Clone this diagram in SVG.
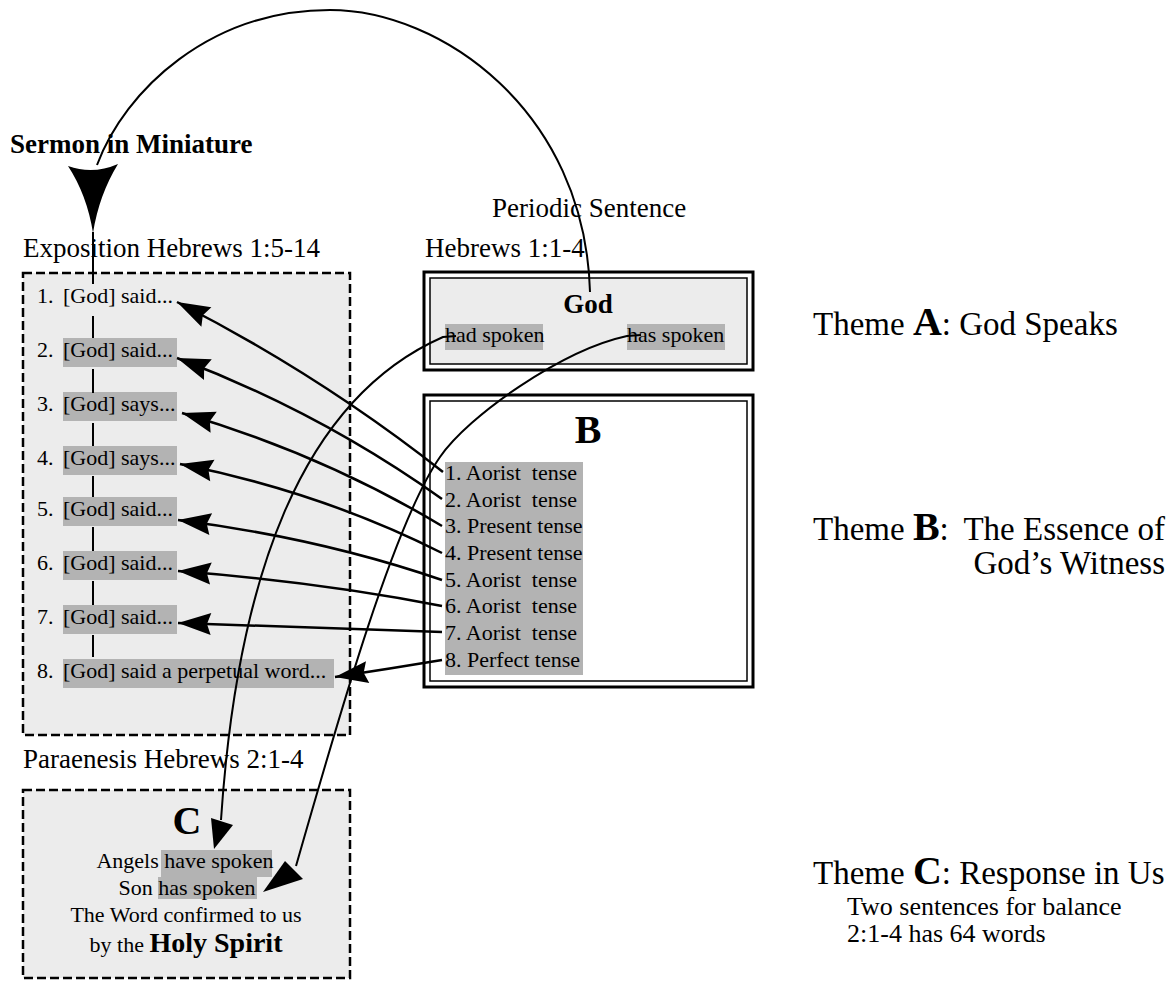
<svg xmlns="http://www.w3.org/2000/svg" width="1176" height="981" viewBox="0 0 1176 981">
<style>
text{font-family:"Liberation Serif","Times New Roman",serif;fill:#000}
.t27{font-size:27px}
.t26{font-size:26px}
.t22{font-size:22px}
.b{font-weight:bold}
.pre{white-space:pre}
.dash{fill:#ececec;stroke:#000;stroke-width:2.5;stroke-dasharray:9 4}
.hl{fill:#b3b3b3}
.outer{fill:none;stroke:#000;stroke-width:3}
.inner{stroke:#000;stroke-width:1.5}
.conn{fill:none;stroke:#000;stroke-width:2.5}
.thin{fill:none;stroke:#000;stroke-width:2}
.th{font-size:33px}
.big{font-size:40px;font-weight:bold}
</style>
<defs>
<marker id="ah" viewBox="-34 -12 36 24" refX="0" refY="0" markerWidth="36" markerHeight="24" markerUnits="userSpaceOnUse" orient="auto">
<path d="M0,0 L-33,-11 L-29,0 L-33,11 Z" fill="#000"/>
</marker>
</defs>
<rect width="1176" height="981" fill="#fff"/>

<g id="title">
<text class="t27 b" x="10" y="153">Sermon in Miniature</text>
</g>

<g id="periodic-label">
<text class="t27" x="492" y="217">Periodic Sentence</text>
</g>

<g id="exposition">
<text class="t27" x="23" y="257">Exposition Hebrews 1:5-14</text>
<rect class="dash" x="23" y="273" width="327" height="462"/>
<rect class="hl" x="63" y="338" width="114" height="29"/>
<rect class="hl" x="63" y="392" width="114" height="29"/>
<rect class="hl" x="63" y="446" width="114" height="29"/>
<rect class="hl" x="63" y="497" width="114" height="29"/>
<rect class="hl" x="63" y="551" width="114" height="29"/>
<rect class="hl" x="63" y="605" width="114" height="29"/>
<rect class="hl" x="63" y="659" width="271" height="29"/>
<text class="t22" x="37" y="303">1.</text><text class="t22" x="63" y="303">[God] said...</text>
<text class="t22" x="37" y="357">2.</text><text class="t22" x="63" y="357">[God] said...</text>
<text class="t22" x="37" y="411">3.</text><text class="t22" x="63" y="411">[God] says...</text>
<text class="t22" x="37" y="465">4.</text><text class="t22" x="63" y="465">[God] says...</text>
<text class="t22" x="37" y="516">5.</text><text class="t22" x="63" y="516">[God] said...</text>
<text class="t22" x="37" y="570">6.</text><text class="t22" x="63" y="570">[God] said...</text>
<text class="t22" x="37" y="624">7.</text><text class="t22" x="63" y="624">[God] said...</text>
<text class="t22" x="37" y="678">8.</text><text class="t22" x="63" y="678">[God] said a perpetual word...</text>
</g>

<g id="box-a">
<text class="t27" x="425" y="257">Hebrews 1:1-4</text>
<rect class="outer" x="424" y="272" width="329" height="98"/>
<rect class="inner" x="430" y="278" width="317" height="86" fill="#ececec"/>
<text class="b" x="588" y="313" font-size="27" text-anchor="middle">God</text>
<rect class="hl" x="445" y="324" width="98" height="26"/>
<rect class="hl" x="627" y="324" width="98" height="26"/>
<text class="t22" x="445" y="342">had spoken</text>
<text class="t22" x="627" y="342">has spoken</text>
</g>

<g id="box-b">
<rect class="outer" x="424" y="395" width="329" height="292"/>
<rect class="inner" x="430" y="401" width="317" height="280" fill="#fff"/>
<text class="b" x="588" y="443" font-size="40" text-anchor="middle">B</text>
<rect class="hl" x="445" y="462" width="138" height="213"/>
<text class="t22 pre" x="445" y="480">1. Aorist  tense</text>
<text class="t22 pre" x="445" y="507">2. Aorist  tense</text>
<text class="t22 pre" x="445" y="533">3. Present tense</text>
<text class="t22 pre" x="445" y="560">4. Present tense</text>
<text class="t22 pre" x="445" y="587">5. Aorist  tense</text>
<text class="t22 pre" x="445" y="613">6. Aorist  tense</text>
<text class="t22 pre" x="445" y="640">7. Aorist  tense</text>
<text class="t22 pre" x="445" y="667">8. Perfect tense</text>
</g>

<g id="paraenesis">
<text class="t27" x="23" y="768">Paraenesis Hebrews 2:1-4</text>
<rect class="dash" x="23" y="790" width="327" height="188"/>
<text class="b" x="187" y="834" font-size="40" text-anchor="middle">C</text>
<rect class="hl" x="161" y="850" width="111" height="27"/>
<rect class="hl" x="158" y="877" width="99" height="22"/>
<text class="t22" x="185" y="868" text-anchor="middle">Angels have spoken</text>
<text class="t22" x="187" y="895" text-anchor="middle">Son has spoken</text>
<text class="t22" x="186" y="922" text-anchor="middle">The Word confirmed to us</text>
<text x="186" y="952" text-anchor="middle" font-size="22">by the <tspan class="b" font-size="28">Holy Spirit</tspan></text>
</g>

<g id="theme-a">
<text class="th" x="813" y="335">Theme <tspan class="big">A</tspan>: God Speaks</text>
</g>
<g id="theme-b">
<text class="th" x="813" y="540">Theme <tspan class="big">B</tspan>:</text>
<text class="th" x="1165" y="540" text-anchor="end">The Essence of</text>
<text class="th" x="1165" y="574" text-anchor="end">God’s Witness</text>
</g>
<g id="theme-c">
<text class="th" x="813" y="884">Theme <tspan class="big">C</tspan>: Response in Us</text>
<text class="t26" x="847" y="915">Two sentences for balance</text>
<text class="t26" x="847" y="942">2:1-4 has 64 words</text>
</g>

<g id="connectors">
<path class="thin" d="M590,292 C585,110 440,10 330,10 C210,10 125,90 97,165"/>
<path d="M68,166 Q93,175 118,164 Q99,195 93,233 Q87,195 68,166 Z" fill="#000"/>
<path class="thin" d="M93,232 V284 M93,316 V338 M93,369 V393 M93,423 V446 M93,476 V497 M93,527 V551 M93,581 V605 M93,635 V657"/>
<path class="conn" marker-end="url(#ah)" d="M443,472 Q320,375 177,302"/>
<path class="conn" marker-end="url(#ah)" d="M442,499 Q320,412 177,358"/>
<path class="conn" marker-end="url(#ah)" d="M442,526 Q322,454 182,413"/>
<path class="conn" marker-end="url(#ah)" d="M442,553 Q321,492 180,464"/>
<path class="conn" marker-end="url(#ah)" d="M442,580 Q320,538 178,520"/>
<path class="conn" marker-end="url(#ah)" d="M442,606 Q320,582 178,571"/>
<path class="conn" marker-end="url(#ah)" d="M442,632 Q310,627 178,623"/>
<path class="conn" marker-end="url(#ah)" d="M442,660 Q388,669 335,677"/>
<path class="thin" d="M456,336 L443,337 C300,400 237,580 221,820"/>
<path d="M211,818 L233,825 L214,849 Z" fill="#000"/>
<path class="thin" d="M641,335 L627,336 C562,350 468,416 440,457 C394,523 339,716 296,866"/>
<path d="M285,861 L303,879 L263,892 Z" fill="#000"/>
</g>
</svg>
